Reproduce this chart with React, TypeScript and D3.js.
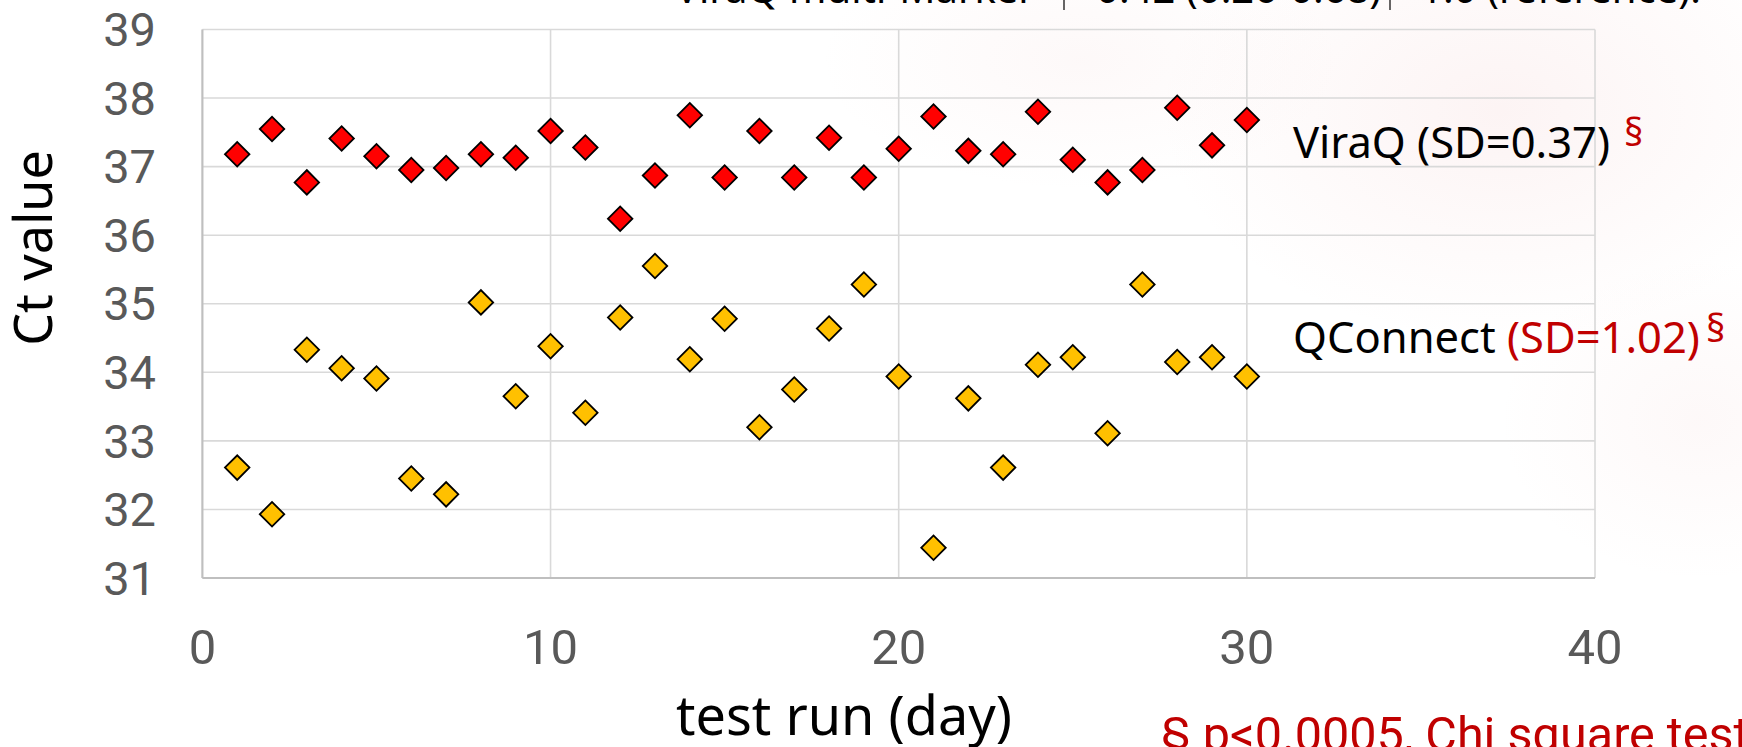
import React from "react";
import * as d3 from "d3";

const days = Array.from({ length: 30 }, (_, i) => i + 1);
const viraQ = [37.18, 37.55, 36.77, 37.41, 37.15, 36.95, 36.98, 37.18, 37.13, 37.52,
  37.28, 36.24, 36.87, 37.75, 36.84, 37.52, 36.84, 37.42, 36.84, 37.26,
  37.73, 37.23, 37.18, 37.80, 37.10, 36.77, 36.95, 37.86, 37.31, 37.68];
const qConnect = [32.61, 31.93, 34.33, 34.06, 33.91, 32.45, 32.22, 35.02, 33.65, 34.38,
  33.41, 34.80, 35.55, 34.19, 34.78, 33.20, 33.75, 34.64, 35.28, 33.94,
  31.44, 33.62, 32.61, 34.11, 34.22, 33.11, 35.28, 34.15, 34.22, 33.94];
const xTicks = [0, 10, 20, 30, 40];
const yTicks = [31, 32, 33, 34, 35, 36, 37, 38, 39];
const topRow = ["ViraQ multi-Marker", "0.42 (0.26-0.68)", "1.0 (reference)."];

const W = 1742;
const H = 747;
const left = 202.4;
const right = 1595;
const top = 29.5;
const bottom = 578;

export default function App() {
  const x = d3.scaleLinear().domain([0, 40]).range([left, right]);
  const y = d3.scaleLinear().domain([31, 39]).range([bottom, top]);
  const diamond = d3.symbol().type(d3.symbolSquare).size(300)();
  const tickFont = "Roboto, 'Liberation Sans', sans-serif";
  const labFont = "'Noto Sans', 'Open Sans', sans-serif";
  const red = "#C00000";

  return (
    <svg width={W} height={H} style={{ position: "absolute", left: 0, top: 0, background: "#fff" }}>
      <defs>
        <radialGradient id="wm1" cx="0.5" cy="0.5" r="0.5">
          <stop offset="0" stopColor="#e89a9a" stopOpacity="0.11" />
          <stop offset="1" stopColor="#e89a9a" stopOpacity="0" />
        </radialGradient>
        <radialGradient id="wm2" cx="0.5" cy="0.5" r="0.5">
          <stop offset="0" stopColor="#eab0b0" stopOpacity="0.08" />
          <stop offset="1" stopColor="#eab0b0" stopOpacity="0" />
        </radialGradient>
      </defs>
      <rect width={W} height={H} fill="#fff" />
      <ellipse cx={1500} cy={110} rx={340} ry={230} fill="url(#wm1)" />
      <ellipse cx={1080} cy={60} rx={260} ry={130} fill="url(#wm2)" />
      <ellipse cx={1700} cy={420} rx={200} ry={160} fill="url(#wm2)" />

      {/* top table row, cut off by the top edge as in the original */}
      <g fontFamily={labFont} fontSize={40} fill="#000">
        <text x={675} y={3}>{topRow[0]}</text>
        <line x1={1064} x2={1064} y1={0} y2={10} stroke="#000" strokeWidth={1.2} />
        <text x={1096} y={3}>{topRow[1]}</text>
        <line x1={1390} x2={1390} y1={0} y2={10} stroke="#000" strokeWidth={1.2} />
        <text x={1420} y={3}>{topRow[2]}</text>
      </g>

      {/* gridlines */}
      <g stroke="#D9D9D9" strokeWidth={1.6}>
        {yTicks.map((t) => (
          <line key={"gy" + t} x1={left} x2={right} y1={y(t)} y2={y(t)} />
        ))}
        {xTicks.map((t) => (
          <line key={"gx" + t} x1={x(t)} x2={x(t)} y1={top} y2={bottom} />
        ))}
      </g>
      <g stroke="#BFBFBF" strokeWidth={2}>
        <line x1={left} x2={left} y1={top} y2={bottom} />
        <line x1={left} x2={right} y1={bottom} y2={bottom} />
      </g>

      {/* tick labels */}
      <g fontFamily={tickFont} fontSize={47} fill="#595959">
        {yTicks.map((t) => (
          <text key={"ty" + t} x={156} y={y(t)} dy="0.355em" textAnchor="end">{t}</text>
        ))}
        {xTicks.map((t) => (
          <text key={"tx" + t} x={x(t)} y={664} textAnchor="middle" fontSize={49}>{t}</text>
        ))}
      </g>

      {/* axis titles */}
      <text transform={`translate(52,248) rotate(-90)`} textAnchor="middle"
        fontFamily={labFont} fontSize={52} fill="#000">Ct value</text>
      <text x={844} y={735} textAnchor="middle" fontFamily={labFont} fontSize={54} fill="#000">test run (day)</text>

      {/* points */}
      <g stroke="#000" strokeWidth={1.8}>
        {days.map((d, i) => (
          <path key={"q" + d} d={diamond as string} fill="#FFC000"
            transform={`translate(${x(d)},${y(qConnect[i])}) rotate(45)`} />
        ))}
        {days.map((d, i) => (
          <path key={"v" + d} d={diamond as string} fill="#FF0000"
            transform={`translate(${x(d)},${y(viraQ[i])}) rotate(45)`} />
        ))}
      </g>

      {/* series labels */}
      <g fontFamily={labFont} fontSize={43.5} fill="#000">
        <text x={1293} y={158}>ViraQ (SD=0.37)</text>
        <text x={1624} y={146} fill={red} fontSize={38}>§</text>
        <text x={1293} y={353}>QConnect <tspan fill={red}>(SD=1.02)</tspan></text>
        <text x={1706} y={342} fill={red} fontSize={38}>§</text>
      </g>

      <text x={1161} y={751} fontFamily={tickFont} fontSize={48.5} fill={red}>§ p&lt;0.0005, Chi square test</text>
    </svg>
  );
}
